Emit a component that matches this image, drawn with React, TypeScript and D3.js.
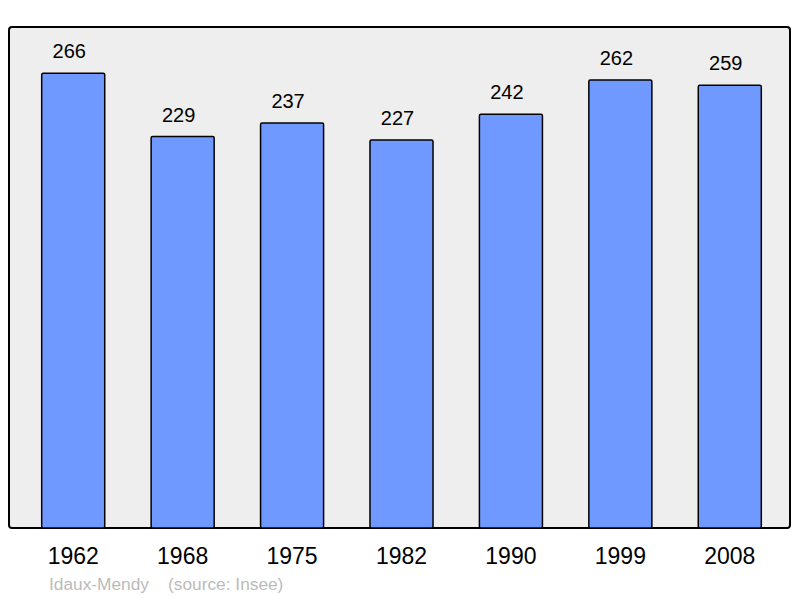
import * as d3 from 'd3'

const years = ['1962', '1968', '1975', '1982', '1990', '1999', '2008']
const population = [266, 229, 237, 227, 242, 262, 259]
const footer = 'Idaux-Mendy    (source: Insee)'

const WIDTH = 800
const HEIGHT = 598
const FRAME = {left: 9, top: 27, right: 790, bottom: 528}

export default function App() {
  const xScale = d3
    .scaleBand()
    .domain(years)
    .range([18.5, 784.5])
    .paddingInner(0.424)
    .paddingOuter(0.212)

  const yScale = d3
    .scaleLinear()
    .domain([0, d3.max(population)! * 1.1])
    .range([FRAME.bottom, FRAME.top])

  const bars = years.map((year, i) => {
    const x = xScale(year) as number
    const y = yScale(population[i]) + 0.7
    const cx = x + xScale.bandwidth() / 2
    return (
      <g key={year}>
        <rect
          x={x}
          y={y}
          width={xScale.bandwidth()}
          height={FRAME.bottom - y}
          rx={1.5}
          fill="#7099ff"
          stroke="#000"
          strokeWidth={1.5}
        />
        {/* value labels sit a little left of the bar centre */}
        <text x={cx - 4} y={y - 15} textAnchor="middle" fontSize={20} fill="#000">
          {population[i]}
        </text>
        <text x={cx} y={FRAME.bottom + 36} textAnchor="middle" fontSize={23} fill="#000">
          {year}
        </text>
      </g>
    )
  })

  return (
    <svg
      width={WIDTH}
      height={HEIGHT}
      style={{position: 'absolute', left: 0, top: 0}}
      fontFamily="'Liberation Sans', Arial, sans-serif">
      <rect width={WIDTH} height={HEIGHT} fill="#fff" />
      <rect
        x={FRAME.left}
        y={FRAME.top}
        width={FRAME.right - FRAME.left}
        height={FRAME.bottom - FRAME.top}
        rx={3}
        fill="#eeeeee"
        stroke="#000"
        strokeWidth={2}
      />
      {bars}
      <text x={49} y={590} fontSize={17.3} fill="#bbbbbb" style={{whiteSpace: 'pre'}}>
        {footer}
      </text>
    </svg>
  )
}
